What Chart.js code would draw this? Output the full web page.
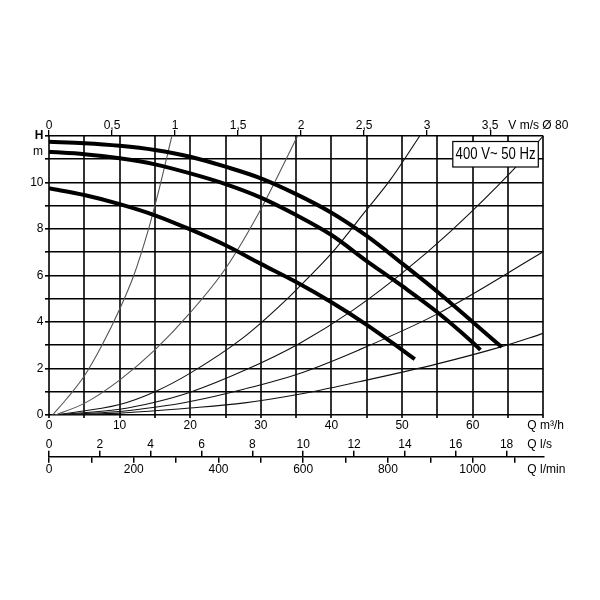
<!DOCTYPE html>
<html>
<head>
<meta charset="utf-8">
<script src="https://cdn.jsdelivr.net/npm/chart.js@4.4.1/dist/chart.umd.min.js"></script>
<style>
  html, body { margin: 0; padding: 0; background: #fff; }
  canvas { display: block; }
</style>
</head>
<body>
<canvas id="c" width="600" height="600"></canvas>
<script>
// ---------- data ----------
// Pump curves: Q in m³/h, H in m
const qA = [0, 5, 10, 15, 20, 25, 30, 35, 40, 45, 50, 55, 60, 64.1];
const hA = [11.75, 11.69, 11.58, 11.40, 11.11, 10.68, 10.18, 9.50, 8.70, 7.70, 6.52, 5.30, 4.00, 2.92];
const qB = [0, 5, 10, 15, 20, 25, 30, 35, 40, 45, 50, 55, 60, 61.1];
const hB = [11.32, 11.22, 11.04, 10.78, 10.39, 9.93, 9.35, 8.60, 7.74, 6.62, 5.55, 4.42, 3.12, 2.80];
const qC = [0, 5, 10, 15, 20, 25, 30, 35, 40, 45, 50, 51.8];
const hC = [9.75, 9.46, 9.07, 8.59, 7.98, 7.30, 6.50, 5.72, 4.85, 3.88, 2.80, 2.40];

// System (resistance) curves
const qS1 = [0.5, 2.5, 5, 7.5, 10, 12, 14, 15.5, 17.4];
const hS1 = [0, 0.7, 1.68, 3.0, 4.55, 6.0, 7.9, 9.6, 12];
const qS2 = [0.85, 5, 10, 15, 20, 25, 30, 35.2];
const hS2 = [0, 0.5, 1.5, 2.8, 4.4, 6.3, 8.85, 12];
const qS3 = [0.85, 10, 15, 20, 27.7, 34.1, 36.2, 40, 44.9, 48.3, 52.5];
const hS3 = [0, 0.45, 1.0, 1.8, 3.37, 5.1, 5.75, 6.95, 8.8, 10.1, 12];
const qS4 = [0.85, 10, 15, 20, 27.7, 35.6, 43.1, 50, 56.8, 65.9, 70];
const hS4 = [0, 0.25, 0.55, 0.98, 1.92, 3.1, 4.52, 6.1, 7.88, 10.6, 12];
const qS5 = [0.85, 10, 15, 20, 27.7, 35.6, 43.9, 55, 70];
const hS5 = [0, 0.15, 0.33, 0.58, 1.12, 1.8, 2.8, 4.35, 7.02];
const qS6 = [0.85, 10, 20, 27.7, 35.6, 43.9, 55, 64, 70];
const hS6 = [0, 0.08, 0.3, 0.52, 0.9, 1.43, 2.2, 2.93, 3.51];

// Axes
const qMax = 70;                 // m³/h
const hMax = 12;                 // m
const qTicks = [0,5,10,15,20,25,30,35,40,45,50,55,60,65,70];
const qLabels = [0,10,20,30,40,50,60];
const hLabels = [0,2,4,6,8,10];
const vTicks = [0,0.5,1,1.5,2,2.5,3,3.5];        // V m/s (Ø 80)
const lsTicks = [0,2,4,6,8,10,12,14,16,18];       // Q l/s
const lminTicks = [0,100,200,300,400,500,600,700,800,900,1000,1100]; // Q l/min
const lminLabels = [0,200,400,600,800,1000];
const qPerV = 17.85;   // m³/h per 1 m/s
const qPerLs = 3.6;    // m³/h per 1 l/s
const qPerLmin = 0.06; // m³/h per 1 l/min
const boxText = '400 V~ 50 Hz';

// ---------- helpers ----------
const pts = (qs, hs) => qs.map((q, i) => ({x: q, y: hs[i]}));
const thick = (qs, hs) => ({data: pts(qs, hs), borderColor: '#000', borderWidth: 4, order: 0});
const thin = (qs, hs, col) => ({data: pts(qs, hs), borderColor: col, borderWidth: 1.1, order: 1});
const fmtDec = v => String(v).replace('.', ',');
const setTicks = arr => (s) => { s.ticks = arr.map(v => ({value: v})); };

const FONT = "'Liberation Sans', Arial, Helvetica, sans-serif";
Chart.defaults.font.family = FONT;
Chart.defaults.font.size = 12;
Chart.defaults.color = '#000';

const annot = {
  id: 'annot',
  afterDatasetsDraw(chart) {
    const {ctx, chartArea: a} = chart;
    ctx.save();
    const bx = a.right - 90.5, by = a.top + 5.5, bw = 85.5, bh = 25.5;
    ctx.fillStyle = '#fff';
    ctx.fillRect(bx, by, bw, bh);
    ctx.strokeStyle = '#000';
    ctx.lineWidth = 1.2;
    ctx.strokeRect(bx, by, bw, bh);
    ctx.fillStyle = '#000';
    ctx.textBaseline = 'middle';
    ctx.textAlign = 'center';
    ctx.font = '16px ' + FONT;
    ctx.translate(bx + bw / 2, by + bh / 2 + 0.5);
    ctx.scale(0.82, 1);
    ctx.fillText(boxText, 0, 0);
    ctx.restore();
  },
  afterDraw(chart) {
    const {ctx, chartArea: a} = chart;
    ctx.save();
    ctx.fillStyle = '#000';
    ctx.textBaseline = 'middle';
    ctx.textAlign = 'right';
    ctx.font = 'bold 12px ' + FONT;
    ctx.fillText('H', a.left - 5.5, a.top);
    ctx.font = '12px ' + FONT;
    ctx.fillText('m', a.left - 6, a.top + 15.5);
    ctx.textAlign = 'left';
    ctx.fillText('V m/s Ø 80', a.right - 35, a.top - 10);
    ctx.fillText('Q m³/h', a.right - 16, a.bottom + 10.7);
    ctx.fillText('Q l/s', a.right - 16, a.bottom + 30);
    ctx.fillText('Q l/min', a.right - 16, a.bottom + 55);
    ctx.restore();
  }
};

new Chart(document.getElementById('c'), {
  type: 'scatter',
  data: {
    datasets: [
      thick(qA, hA), thick(qB, hB), thick(qC, hC),
      thin(qS1, hS1, '#555'), thin(qS2, hS2, '#555'),
      thin(qS3, hS3, '#111'), thin(qS4, hS4, '#111'),
      thin(qS5, hS5, '#111'), thin(qS6, hS6, '#111')
    ]
  },
  options: {
    responsive: false,
    animation: false,
    devicePixelRatio: 1,
    layout: { padding: { left: 0, right: 56.7, top: 0, bottom: 0 } },
    elements: {
      line: { cubicInterpolationMode: 'monotone', fill: false, borderCapStyle: 'butt' },
      point: { radius: 0, hoverRadius: 0 }
    },
    datasets: { scatter: { showLine: true } },
    plugins: { legend: { display: false }, tooltip: { enabled: false } },
    scales: {
      x: {
        type: 'linear', position: 'bottom', min: 0, max: qMax,
        afterBuildTicks: setTicks(qTicks),
        afterFit: s => { s.height = 16; },
        border: { display: false },
        grid: { color: '#333', lineWidth: 2, drawTicks: true, tickLength: 3 },
        ticks: { autoSkip: false, maxRotation: 0, padding: 0.5,
                 callback: v => qLabels.includes(v) ? String(v) : '' }
      },
      ls: {
        type: 'linear', position: 'bottom', min: 0, max: qMax / qPerLs,
        afterBuildTicks: setTicks(lsTicks),
        afterFit: s => { s.height = 25.7; },
        border: { display: false },
        grid: { drawOnChartArea: false, color: '#000', lineWidth: 1.5, drawTicks: true,
                tickLength: 25.7, tickBorderDash: [0, 19.7, 6, 60] },
        ticks: { autoSkip: false, maxRotation: 0, padding: -18.9, callback: v => String(v) }
      },
      lmin: {
        type: 'linear', position: 'bottom', min: 0, max: qMax / qPerLmin,
        afterBuildTicks: setTicks(lminTicks),
        afterFit: s => { s.height = 143.3; },
        border: { display: true, color: '#000', width: 1.6 },
        grid: { drawOnChartArea: false, color: '#000', lineWidth: 1.5, drawTicks: true, tickLength: 6 },
        ticks: { autoSkip: false, maxRotation: 0, padding: 0.1,
                 callback: v => lminLabels.includes(v) ? String(v) : '' }
      },
      v: {
        type: 'linear', position: 'top', min: 0, max: qMax / qPerV,
        afterBuildTicks: setTicks(vTicks),
        afterFit: s => { s.height = 136; },
        border: { display: false },
        grid: { drawOnChartArea: false, color: '#000', lineWidth: 1.3, drawTicks: true, tickLength: 6 },
        ticks: { autoSkip: false, maxRotation: 0, padding: -3, callback: v => fmtDec(v) }
      },
      y: {
        type: 'linear', position: 'left', min: 0, max: hMax,
        afterFit: s => { s.width = 49; },
        border: { display: false },
        grid: { color: '#000', lineWidth: 1.6, drawTicks: true, tickLength: 4 },
        ticks: { stepSize: 1, autoSkip: false, padding: 1.5,
                 callback: v => hLabels.includes(v) ? String(v) : '' }
      }
    }
  },
  plugins: [annot]
});
</script>
</body>
</html>
